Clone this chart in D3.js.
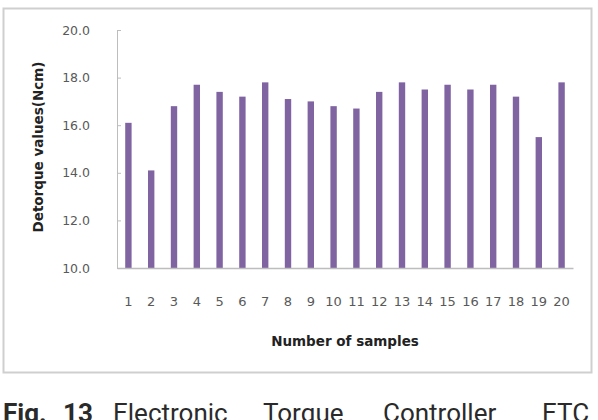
<!DOCTYPE html>
<html><head><meta charset="utf-8">
<script src="https://cdn.jsdelivr.net/npm/d3@7"></script>
<style>html,body{margin:0;padding:0;background:#fff;}</style>
</head><body>
<svg id="chart" width="598" height="420"></svg>
<script>
const samples = [1,2,3,4,5,6,7,8,9,10,11,12,13,14,15,16,17,18,19,20];
const detorque = [16.1,14.1,16.8,17.7,17.4,17.2,17.8,17.1,17.0,16.8,16.7,17.4,17.8,17.5,17.7,17.5,17.7,17.2,15.5,17.8];
const yTicks = [10,12,14,16,18,20];
const yTitle = "Detorque values(Ncm)";
const xTitle = "Number of samples";
const captionWords = ["Fig.", "13", "Electronic", "Torque", "Controller", "ETC"];

const svg = d3.select("#chart");
svg.append("rect").attr("x",3.5).attr("y",8.5).attr("width",588).attr("height",364)
  .attr("fill","#fff").attr("stroke","#cfcfcf").attr("stroke-width",2);

const x = d3.scaleBand().domain(samples).range([117,573]).paddingInner(0.72).paddingOuter(0.36);
const y = d3.scaleLinear().domain([10,20]).range([268,30]);

const gy = svg.append("g").attr("transform","translate(117,0)")
  .call(d3.axisLeft(y).tickValues(yTicks).tickFormat(d3.format(".1f")).tickSizeInner(-4).tickSizeOuter(0).tickPadding(27));
gy.select(".domain").attr("stroke","#bdbdbd");
gy.selectAll(".tick line").attr("stroke","#bdbdbd");
gy.selectAll(".tick text").attr("fill","#595959").style("font-family","'DejaVu Sans', sans-serif").style("font-size","12.5px");

svg.append("g").selectAll("rect").data(samples).join("rect")
  .attr("x",(d)=>x(d)).attr("width",x.bandwidth())
  .attr("y",(d,i)=>y(detorque[i])).attr("height",(d,i)=>y(10)-y(detorque[i]))
  .attr("fill","#8064A2");

const gx = svg.append("g").attr("transform","translate(0,268)")
  .call(d3.axisBottom(x).tickSize(0).tickPadding(29));
gx.select(".domain").attr("stroke","#bdbdbd").attr("stroke-width",1.5);
gx.selectAll(".tick text").attr("fill","#595959").style("font-family","'DejaVu Sans', sans-serif").style("font-size","13px");

svg.append("text").attr("transform","translate(43,147) rotate(-90)")
  .attr("text-anchor","middle").attr("fill","#222")
  .style("font-family","'DejaVu Sans', sans-serif").style("font-weight","bold").style("font-size","13.5px")
  .text(yTitle);
svg.append("text").attr("x",345).attr("y",346)
  .attr("text-anchor","middle").attr("fill","#222")
  .style("font-family","'DejaVu Sans', sans-serif").style("font-weight","bold").style("font-size","13.5px")
  .text(xTitle);

const capX = [3,63,113,263,383,542];
const capBold = [true,true,false,false,false,false];
svg.append("g").selectAll("text").data(captionWords).join("text")
  .attr("x",(d,i)=>capX[i]).attr("y",422)
  .attr("fill","#2a2a2a")
  .style("font-family","Roboto, sans-serif").style("font-size","26px")
  .style("font-weight",(d,i)=>capBold[i]?"bold":"normal")
  .text(d=>d);
</script>
</body></html>
